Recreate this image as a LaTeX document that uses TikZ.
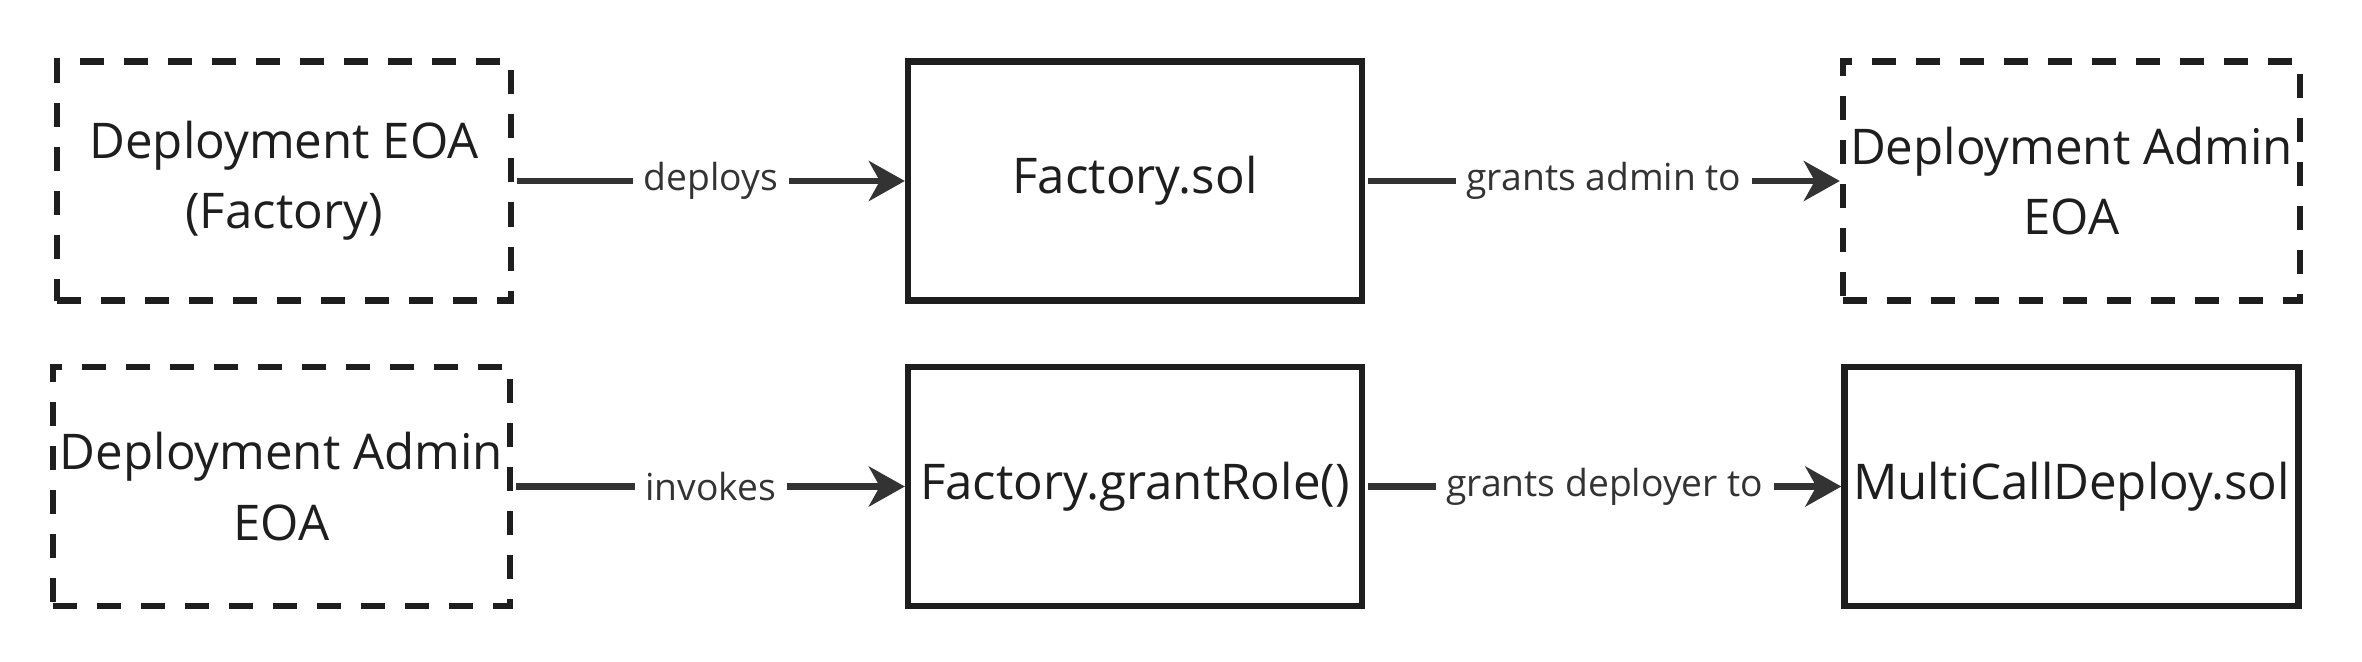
\documentclass[tikz,border=0pt]{standalone}
\usepackage{fontspec}
\setmainfont{Open Sans}
\usetikzlibrary{arrows.meta, positioning}
\definecolor{cink}{HTML}{1E1E1E}
\definecolor{cline}{HTML}{333333}
\tikzset{
  every picture/.style={line width=1.8pt},
  box/.style={draw=cink, rectangle, align=center, inner sep=2pt,
    minimum width=4.54cm, minimum height=2.39cm, text=cink,
    font=\fontsize{14}{20}\selectfont},
  eoa/.style={box, dash pattern=on 0.24cm off 0.2cm},
  arrow/.style={-{Stealth[length=0.36cm, width=0.4cm, inset=0.11cm]}, draw=cline, line width=1.9pt},
  lbl/.style={fill=white, text=cline, inner sep=3pt, font=\fontsize{10.6}{13}\selectfont},
}

\begin{document}
\begin{tikzpicture}
  \useasboundingbox (0,0) rectangle (23.62,-6.61);

  \node[eoa] (deoa) at (2.84,-1.81) {Deployment EOA\\(Factory)};
  \node[box] (fac) at (11.35,-1.81) {Factory.sol};
  \node[eoa] (adm) at (20.715,-1.81) {Deployment Admin\\EOA};

  \node[eoa] (adm2) at (2.815,-4.865) {Deployment Admin\\EOA};
  \node[box] (grant) at (11.35,-4.865) {Factory.grantRole()};
  \node[box] (mcd) at (20.715,-4.865) {MultiCallDeploy.sol};

  \draw[arrow] (deoa.east) ++(0.03,0) -- (fac.west) node[lbl, midway] {deploys};
  \draw[arrow] (fac.east) ++(0.03,0) -- (adm.west) node[lbl, midway] {grants admin to};
  \draw[arrow] (adm2.east) ++(0.03,0) -- (grant.west) node[lbl, midway] {invokes};
  \draw[arrow] (grant.east) ++(0.03,0) -- (mcd.west) node[lbl, midway] {grants deployer to};
\end{tikzpicture}
\end{document}
